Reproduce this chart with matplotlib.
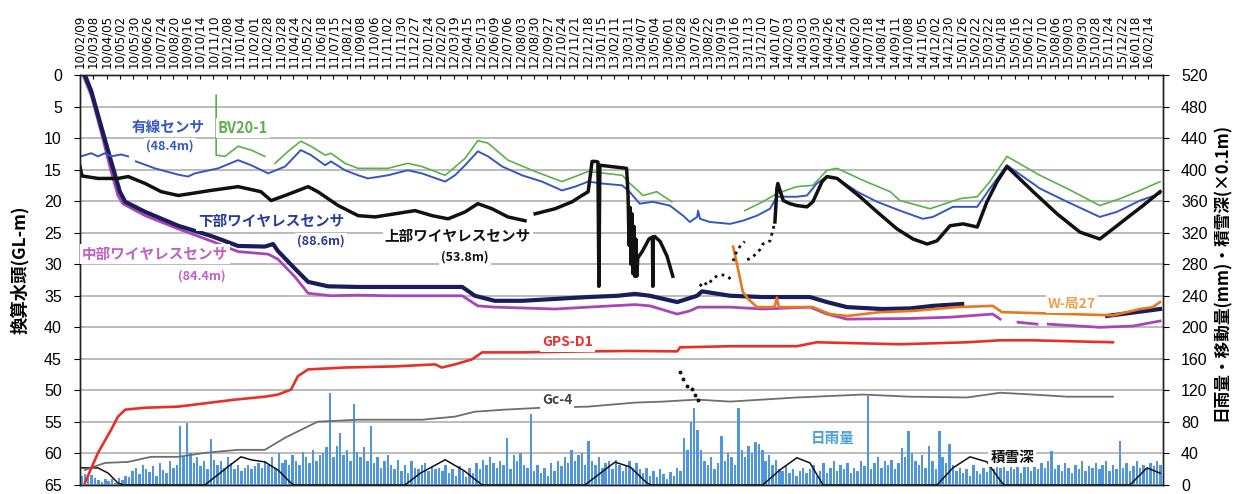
import numpy as np
import matplotlib.pyplot as plt

plt.rcParams['font.family'] = ['Liberation Sans', 'Noto Sans CJK JP']
JP = ['Noto Sans CJK JP', 'DejaVu Sans']

start = np.datetime64('2010-02-09')
nan = np.nan

date_labels = [
    '10/02/09', '10/03/08', '10/04/05', '10/05/02', '10/05/30', '10/06/26', '10/07/24', '10/08/20',
    '10/09/16', '10/10/14', '10/11/10', '10/12/08', '11/01/04', '11/02/01', '11/02/28', '11/03/28',
    '11/04/24', '11/05/22', '11/06/18', '11/07/15', '11/08/12', '11/09/08', '11/10/06', '11/11/02',
    '11/11/30', '11/12/27', '12/01/24', '12/02/20', '12/03/19', '12/04/15', '12/05/13', '12/06/09',
    '12/07/06', '12/08/03', '12/08/30', '12/09/27', '12/10/24', '12/11/21', '12/12/18', '13/01/15',
    '13/02/11', '13/03/11', '13/04/07', '13/05/04', '13/06/01', '13/06/28', '13/07/26', '13/08/22',
    '13/09/19', '13/10/16', '13/11/13', '13/12/10', '14/01/07', '14/02/03', '14/03/03', '14/03/30',
    '14/04/26', '14/05/24', '14/06/20', '14/07/18', '14/08/14', '14/09/11', '14/10/08', '14/11/05',
    '14/12/02', '14/12/30', '15/01/26', '15/02/22', '15/03/22', '15/04/18', '15/05/16', '15/06/12',
    '15/07/10', '15/08/06', '15/09/03', '15/09/30', '15/10/28', '15/11/24', '15/12/22', '16/01/18',
    '16/02/14']

# days since 2010-02-09, groundwater head in GL-m
wired_days = [2, 23, 37, 51, 64, 84, 99, nan, 115, 154, 202, 222, 236, 284, 325, 352, 387, 422,
              454, 475, 504, 516, 545, 572, 592, 633, 674, 703, 751, 771, 792, 818, 839, 868, 909,
              950, 991, 1018, 1045, 1073, 1115, 1131, 1151, 1178, 1213, 1240, 1254, 1269, 1271,
              1275, 1295, 1337, 1363, 1392, 1419, 1433, 1474, 1495, 1515, 1536, 1557, 1598, 1639,
              1686, 1733, 1754, 1795, 1845, 1871, 1906, 1974, 2030, 2097, 2132, 2180, 2221]
wired_level = [12.9, 12.4, 12.9, 12.4, 12.9, 12.6, 12.9, nan, 13.7, 14.8, 15.8, 16.1, 15.6, 14.8,
               13.5, 14.3, 15.6, 14.5, 11.9, 12.7, 14.3, 13.7, 15.1, 15.9, 16.4, 15.9, 15.1, 15.6,
               16.9, 15.9, 14.3, 12.1, 12.9, 14.5, 15.9, 16.9, 18.3, 17.7, 16.9, 17.2, 17.5, 18.6,
               20.4, 20.1, 20.7, 22.3, 23.3, 22.5, 21.5, 22.8, 23.3, 23.6, 23.1, 22.3, 21.2, 19.3,
               19.3, 19.1, 17.2, 16.1, 16.4, 18.5, 20.1, 21.5, 22.8, 22.5, 20.9, 20.9, 18.0, 14.3,
               18.0, 20.1, 22.5, 21.7, 19.9, 18.8]

bv_days = [280, 280, 298, 325, 352, 380, nan, 401, 428, 454, 475, 504, 516, 545, 572, 607, 633,
           674, 703, 751, 792, 818, 839, 880, 936, 991, 1018, 1045, 1115, 1131, 1158, 1186, 1217,
           nan, 1367, 1404, 1433, 1474, 1507, 1536, 1557, 1610, 1666, 1686, 1748, 1810, 1845, 1871,
           1906, 1974, 2030, 2097, 2139, 2180, 2221]
bv_level = [3.2, 12.7, 12.9, 11.3, 11.9, 12.9, nan, 14.0, 12.1, 10.5, 11.3, 12.7, 12.4, 14.0, 14.8,
            14.8, 14.8, 14.0, 14.5, 15.9, 13.2, 10.4, 10.8, 13.5, 15.3, 16.9, 16.1, 15.3, 15.9, 17.2,
            19.1, 18.5, 20.1, nan, 21.5, 20.1, 18.8, 17.7, 17.5, 15.1, 14.8, 16.7, 18.5, 19.9, 21.2,
            19.6, 19.3, 16.9, 12.9, 15.9, 18.0, 20.7, 19.6, 18.3, 16.9]

upper_days = [0, 4, 37, 78, 99, 134, 167, 202, 228, 269, 325, 372, 393, 422, 469, 489, 531, 572,
              607, 648, 689, 724, 757, 792, 818, 847, 880, 915, nan, 936, 977, 1012, 1028, 1045,
              1053, 1060, 1065, 1067, 1069, 1124, 1127, 1129, 1131, 1133, 1135, 1137, 1139, 1141,
              1143, 1145, 1147, 1156, 1170, 1177, 1178, 1179, 1182, 1193, 1207, 1219, nan,
              1429, 1433, 1435, 1446, 1460, 1474, 1495, 1507, 1526, 1536, 1557, 1583, 1604, 1639,
              1680, 1713, 1742, 1762, 1789, 1816, 1845, 1865, 1886, 1906, 1960, 2009, 2056, 2097,
              2124, 2159, 2186, 2221]
upper_level = [14.5, 16.0, 16.4, 16.4, 16.1, 17.2, 18.5, 19.1, 18.8, 18.3, 17.7, 18.5, 19.9, 19.1,
               17.7, 18.5, 20.7, 22.3, 22.5, 22.0, 21.5, 22.3, 22.8, 21.7, 20.4, 21.2, 22.5, 23.1,
               nan, 22.0, 21.2, 20.1, 19.3, 18.5, 13.7, 13.7, 13.8, 33.5, 14.3, 14.8, 19.1, 27.0,
               21.0, 30.0, 22.0, 31.5, 24.0, 31.9, 26.0, 31.9, 29.0, 28.0, 26.0, 25.7, 33.5, 25.7,
               25.6, 26.4, 28.7, 31.9, nan,
               23.3, 18.0, 17.2, 19.9, 20.4, 20.7, 20.9, 20.1, 16.9, 16.1, 16.4, 18.0, 19.3, 21.7,
               24.4, 26.0, 26.8, 26.3, 23.9, 23.6, 24.1, 20.1, 16.9, 14.5, 18.5, 22.0, 24.9, 26.0,
               24.4, 22.3, 20.7, 18.5]

# scattered readings of the upper sensor during the 2013 outage
upper_gap_days = [1275, 1281, 1291, 1302, 1312, 1322, 1332, 1341, nan, 1343, 1351, 1361, 1367,
                  nan, 1372, 1384, 1398, 1404, 1419, 1429]
upper_gap_level = [33.5, 32.8, 33.3, 32.2, 31.8, 31.7, 32.0, 32.5, nan, 29.5, 27.8, 26.8, 26.4,
                   nan, 29.3, 28.8, 27.7, 26.8, 26.3, 23.3]

lower_days = [10, 23, 43, 64, 82, 93, 134, 202, 269, 325, 380, 397, 407, 442, 469, 510, 572, 633,
              703, 786, 812, 853, 909, 977, 1045, 1106, 1141, 1172, 1228, 1269, 1279, 1337, 1404,
              1501, 1536, 1577, 1651, 1707, 1754, 1814, nan, 2112, 2221]
lower_level = [0.0, 2.5, 8.0, 13.7, 18.5, 20.1, 21.7, 23.9, 25.5, 27.1, 27.2, 26.8, 27.9, 30.7,
               32.8, 33.5, 33.6, 33.6, 33.6, 33.6, 35.0, 35.8, 35.8, 35.5, 35.2, 35.0, 34.7, 35.0,
               36.0, 35.0, 34.3, 35.0, 35.2, 35.2, 36.0, 36.8, 37.1, 37.0, 36.6, 36.3, nan, 38.2,
               37.1]

middle_days = [6, 23, 43, 64, 78, 88, 134, 202, 269, 325, 387, 407, 442, 469, 516, 572, 633, 703,
               786, 818, 853, 977, 1045, 1141, 1172, 1228, 1254, 1271, 1337, 1404, 1501, 1536,
               1577, 1707, 1789, 1877, 1892, nan, 1929, 1968, nan, 1991, 2097, 2165, 2221]
middle_level = [0.0, 3.2, 8.9, 15.3, 19.1, 20.4, 22.3, 24.4, 26.3, 28.0, 28.4, 29.2, 32.0, 34.6,
                35.0, 34.9, 35.0, 35.0, 35.0, 36.6, 36.8, 37.1, 36.8, 36.4, 36.6, 37.9, 37.4,
                36.8, 36.8, 37.1, 36.8, 37.9, 38.7, 38.6, 38.4, 37.9, 38.7, nan, 39.2, 39.5, nan,
                39.5, 40.0, 39.8, 39.0]

well27_days = [1343, 1353, 1363, 1374, 1392, 1425, 1429, 1433, 1437, 1507, 1542, 1577, 1645, 1713,
               1803, 1877, 1896, 1988, 2124, 2180, 2206, 2221]
well27_level = [27.2, 30.7, 34.4, 35.5, 36.8, 36.8, 36.6, 35.3, 36.8, 36.8, 37.9, 38.2, 37.6,
                37.4, 36.8, 36.6, 37.6, 37.8, 38.1, 37.1, 36.8, 36.0]

# displacement (mm)
gps_days = [10, 37, 64, 78, 93, 134, 202, 269, 319, 380, 407, 434, 448, 469, 545, 648, 730, 744,
            771, 806, 827, 909, 1045, 1131, 1228, 1234, 1337, 1474, 1515, 1686, 1824, 1892, 1960,
            2124]
gps_mm = [2.6, 40.8, 70.0, 86.7, 95.6, 98.0, 99.4, 104.5, 108.3, 112.0, 114.7, 121.0, 138.0, 146.6,
          149.0, 150.4, 153.0, 149.0, 153.0, 159.3, 168.2, 168.2, 169.5, 170.0, 169.5, 174.6,
          176.0, 176.0, 181.0, 178.5, 181.0, 183.5, 183.5, 181.0]

gc4_days = [10, 51, 99, 146, 202, 257, 325, 380, 422, 463, 489, 572, 703, 771, 812, 874, 950, 1045,
            1141, 1199, 1269, 1337, 1474, 1610, 1707, 1824, 1892, 1960, 2030, 2124]
gc4_mm = [19.0, 28.0, 29.3, 35.7, 35.7, 40.8, 44.6, 44.6, 60.0, 72.6, 80.3, 82.8, 82.8, 86.7, 93.0,
          95.6, 98.0, 99.4, 104.5, 105.8, 108.3, 105.8, 111.0, 114.7, 112.0, 111.0, 117.0, 114.7,
          112.0, 112.0]
gc4_early_days = [1234, 1240, 1248, 1258, 1265, 1271]
gc4_early_mm = [142.7, 134.0, 125.0, 122.0, 114.7, 108.0]

# snow depth (x0.1 m)
snow_days = [2, 37, 58, 78, 90, 257, 269, 304, 331, 352, 380, 407, 434, 440, 668, 700, 751, 790,
             827, 1038, 1100, 1131, 1166, 1175, 1404, 1439, 1474, 1501, 1528, 1762, 1795, 1830,
             1865, 1892, 1900, 2159, 2194, 2221]
snow_depth = [21.7, 21.7, 15.0, 2.5, 0, 0, 6.0, 23.0, 35.7, 31.9, 29.3, 19.0, 2.5, 0, 0, 15.0,
              32.0, 18.0, 0, 0, 29.0, 23.0, 2.5, 0, 0, 19.0, 34.5, 28.0, 0, 0, 21.7, 35.7, 29.3,
              6.0, 0, 0, 21.7, 15.0]

# daily rainfall, weekly peaks (mm)
rain_mm = [
    12, 14, 10, 13, 9, 6, 4, 8, 5, 7, 3, 9, 6, 12, 10,
    18, 22, 14, 25, 20, 16, 24, 12, 28, 19, 15, 30, 22, 26, 75,
    35, 79, 40, 28, 36, 24, 30, 20, 58, 32, 25, 30, 22, 35, 28,
    20, 25, 18, 22, 26, 20, 24, 28, 21, 30, 25, 35, 22, 40, 28,
    32, 25, 38, 30, 26, 42, 35, 28, 45, 30, 38, 40, 48, 117, 36,
    50, 66, 38, 45, 30, 103, 42, 35, 48, 30, 75, 28, 35, 22, 30,
    38, 25, 20, 32, 18, 26, 15, 30, 22, 20, 25, 28, 18, 24, 20,
    22, 18, 25, 15, 20, 12, 24, 18, 10, 22, 15, 28, 20, 32, 25,
    35, 28, 22, 30, 25, 60, 20, 38, 30, 40, 25, 22, 90, 18, 25,
    15, 22, 12, 28, 18, 30, 24, 35, 28, 45, 30, 38, 40, 25, 56,
    30, 25, 35, 22, 28, 30, 20, 32, 26, 18, 25, 30, 22, 28, 20,
    15, 22, 12, 18, 10, 20, 14, 8, 16, 12, 22, 18, 60, 45, 80,
    98, 70, 45, 30, 25, 35, 20, 28, 62, 30, 40, 35, 25, 98, 45,
    35, 50, 40, 55, 52, 45, 30, 38, 25, 32, 20, 18, 24, 15, 20,
    12, 18, 22, 15, 20, 25, 12, 18, 28, 15, 22, 30, 18, 25, 20,
    28, 15, 22, 18, 30, 24, 113, 20, 28, 35, 22, 30, 25, 32, 20,
    28, 47, 35, 69, 40, 30, 25, 38, 22, 50, 30, 20, 69, 35, 28,
    52, 25, 18, 22, 15, 20, 12, 25, 18, 14, 22, 16, 25, 20, 28,
    22, 30, 18, 25, 20, 28, 15, 24, 30, 18, 26, 20, 28, 22, 30,
    43, 20, 25, 18, 28, 22, 15, 26, 20, 30, 18, 24, 22, 28, 20,
    25, 30, 18, 26, 20, 56, 22, 28, 18, 24, 30, 22, 26, 20, 28, 24, 30, 25]
rain_days = np.arange(len(rain_mm)) * 7 + 3

tick_days = [int((np.datetime64('20' + s.replace('/', '-')) - start).astype(int))
             for s in date_labels]

fig = plt.figure(figsize=(12.4, 4.94), dpi=100)
ax = fig.add_axes([80 / 1240, 9 / 494, 1083 / 1240, 410 / 494])
ax2 = ax.twinx()

# groundwater heads (left axis)
ax.plot(middle_days, middle_level, color='#a845b8', lw=2.0)
ax.plot(lower_days, lower_level, color='#1a1d5a', lw=3.0)
ax.plot(well27_days, well27_level, color='#e8781e', lw=1.9)
ax.plot(bv_days, bv_level, color='#5cb04a', lw=1.2)
ax.plot(wired_days, wired_level, color='#3558c0', lw=1.4)
ax.plot(upper_days, upper_level, color='#111111', lw=2.5)
ax.plot(upper_gap_days, upper_gap_level, color='#111111', lw=2.0, ls=(0, (1, 1.6)))

ax.set_xlim(0, 2227)
ax.set_ylim(65, 0)
ax.set_yticks(np.arange(0, 66, 5))
ax.yaxis.grid(True, color='#a8a8a8', lw=1.1)
ax.set_axisbelow(True)

ax.xaxis.tick_top()
ax.set_xticks(tick_days)
ax.set_xticklabels(date_labels, rotation=90, fontsize=8.6, fontfamily='DejaVu Sans')
ax.tick_params(axis='x', direction='in', length=3, pad=5, top=True, bottom=False)
ax.tick_params(axis='y', labelsize=11.5, length=4, pad=9)

# rainfall, snow and displacement (right axis)
ax2.bar(rain_days, rain_mm, width=5.0, color='#5096dc', lw=0)
ax2.plot(snow_days, snow_depth, color='#111111', lw=1.1)
ax2.plot(gc4_days, gc4_mm, color='#6e6e6e', lw=1.3)
ax2.plot(gc4_early_days, gc4_early_mm, ls='none', marker='o', ms=1.8, color='#111111')
ax2.plot(gps_days, gps_mm, color='#e8302a', lw=1.9)
ax2.set_ylim(0, 520)
ax2.set_yticks(np.arange(0, 521, 40))
ax2.tick_params(axis='y', labelsize=11.5, length=4, pad=9)

for a in (ax, ax2):
    for sp in a.spines.values():
        sp.set_color('#222222')
        sp.set_linewidth(1.0)

box = dict(facecolor='white', edgecolor='none', pad=1.5)
notes = [
    ('有線センサ', 181, 8.3, '#3558c0', 10.5, 'center'),
    ('(48.4m)', 185, 11.3, '#3558c0', 9, 'center'),
    ('BV20-1', 284, 8.4, '#5cb04a', 10.5, 'left'),
    ('下部ワイヤレスセンサ', 393, 23.1, '#2a3a9e', 10.5, 'center'),
    ('(88.6m)', 496, 26.4, '#2a3a9e', 9, 'center'),
    ('中部ワイヤレスセンサ', 154, 28.4, '#c060c4', 10.5, 'center'),
    ('(84.4m)', 251, 31.9, '#c060c4', 9, 'center'),
    ('上部ワイヤレスセンサ', 777, 25.5, '#111111', 10.5, 'center'),
    ('(53.8m)', 792, 28.8, '#111111', 9, 'center'),
    ('GPS-D1', 1003, 42.4, '#e8302a', 10, 'center'),
    ('Gc-4', 981, 51.5, '#444444', 10, 'center'),
    ('日雨量', 1548, 57.5, '#4aa0d8', 10.5, 'center'),
    ('積雪深', 1917, 60.5, '#111111', 10.5, 'center'),
    ('W-局27', 2040, 36.3, '#eca050', 10, 'center'),
]
for txt, d, v, c, fs, ha in notes:
    ax2.text(d, v, txt, transform=ax.transData, color=c, fontsize=fs, ha=ha, va='center',
             family=JP, fontweight='bold', bbox=box, zorder=6)

fig.text(20 / 1240, 1 - 270 / 494, '換算水頭(GL-m)', rotation=90, ha='center', va='center',
         fontsize=12.5, family=JP, fontweight='bold')
fig.text(1222 / 1240, 1 - 272 / 494, '日雨量・移動量(mm)・積雪深(×0.1m)', rotation=90,
         ha='center', va='center', fontsize=12, family=JP, fontweight='bold')

fig.savefig('out.png', dpi=100, facecolor='white')
